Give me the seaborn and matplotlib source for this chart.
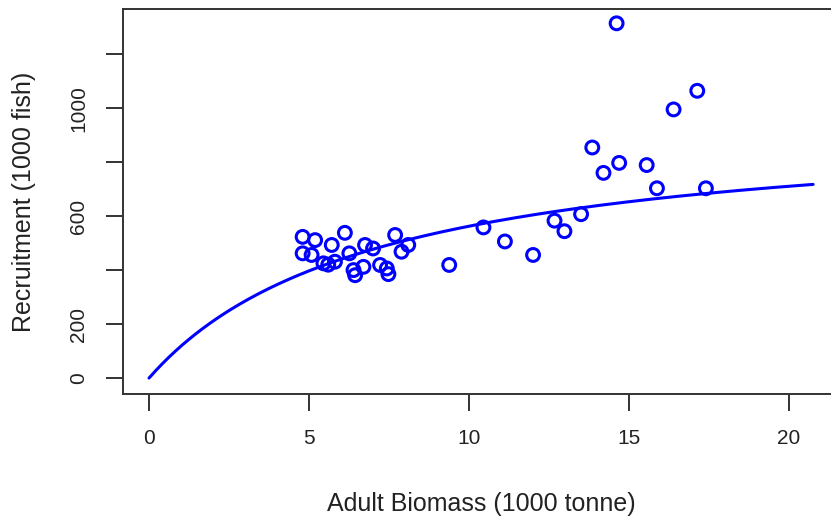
import numpy as np
import pandas as pd
import matplotlib
matplotlib.use("Agg")
import matplotlib.pyplot as plt
import seaborn as sns

# Observed spawning stock (adult biomass, 1000 t) and recruitment (1000 fish)
biomass = [4.80, 4.80, 5.19, 5.08, 5.71, 6.12, 5.45, 5.60, 5.81, 6.26,
           6.39, 6.44, 6.70, 6.75, 7.00, 7.22, 7.43, 7.48, 7.69, 7.89,
           8.10, 9.38, 10.45, 11.12, 12.00, 12.67, 12.98, 13.50, 13.85,
           14.20, 14.69, 15.55, 15.87, 17.40, 14.61, 17.13, 16.39]
recruits = [523, 462, 511, 456, 493, 538, 425, 420, 431, 462,
            400, 381, 412, 493, 480, 419, 406, 385, 530, 468,
            493, 419, 558, 506, 456, 583, 544, 607, 854,
            760, 797, 789, 703, 703, 1314, 1064, 995]

# Fitted Beverton-Holt stock-recruitment parameters
bh_a = 135.0
bh_b = 0.14
s_max = 20.75

x_ticks = [0, 5, 10, 15, 20]
y_ticks = [0, 200, 400, 600, 800, 1000, 1200]
y_tick_labels = ["0", "200", "", "600", "", "1000", ""]

obs = pd.DataFrame({"biomass": biomass, "recruits": recruits})
s_grid = np.linspace(0, s_max, 201)
fit = pd.DataFrame({"biomass": s_grid,
                    "recruits": bh_a * s_grid / (1 + bh_b * s_grid)})

sns.set_style("white")
plt.rcParams["font.family"] = ["Liberation Sans", "DejaVu Sans"]

fig = plt.figure(figsize=(8.31, 5.2), dpi=100)
ax = fig.add_axes([123 / 831, 126 / 520, 717 / 831, 385 / 520])

sns.lineplot(data=fit, x="biomass", y="recruits", ax=ax, color="#0000ff",
             linewidth=2.2, estimator=None, sort=False)
sns.scatterplot(data=obs, x="biomass", y="recruits", ax=ax, marker="o",
                s=85, facecolor="none", edgecolor="#0000ff", linewidth=2.2,
                zorder=3)

ax.set_xlim(-0.8125, 21.59)
ax.set_ylim(-59, 1367)
ax.set_xticks(x_ticks)
ax.set_xticklabels([str(t) for t in x_ticks])
ax.set_yticks(y_ticks)
ax.set_yticklabels(y_tick_labels, rotation=90, va="center")

for side in ["left", "top", "bottom", "right"]:
    ax.spines[side].set_color("#333333")
    ax.spines[side].set_linewidth(1.4)

ax.tick_params(axis="both", which="major", direction="out", length=12,
               width=1.4, color="#333333", labelsize=15, labelcolor="#222222",
               bottom=True, left=True, pad=13)

ax.set_xlabel("Adult Biomass (1000 tonne)", fontsize=18, color="#222222",
              labelpad=32)
ax.set_ylabel("Recruitment (1000 fish)", fontsize=18, color="#222222",
              labelpad=24)

fig.savefig("out.png", dpi=100, facecolor="white")
